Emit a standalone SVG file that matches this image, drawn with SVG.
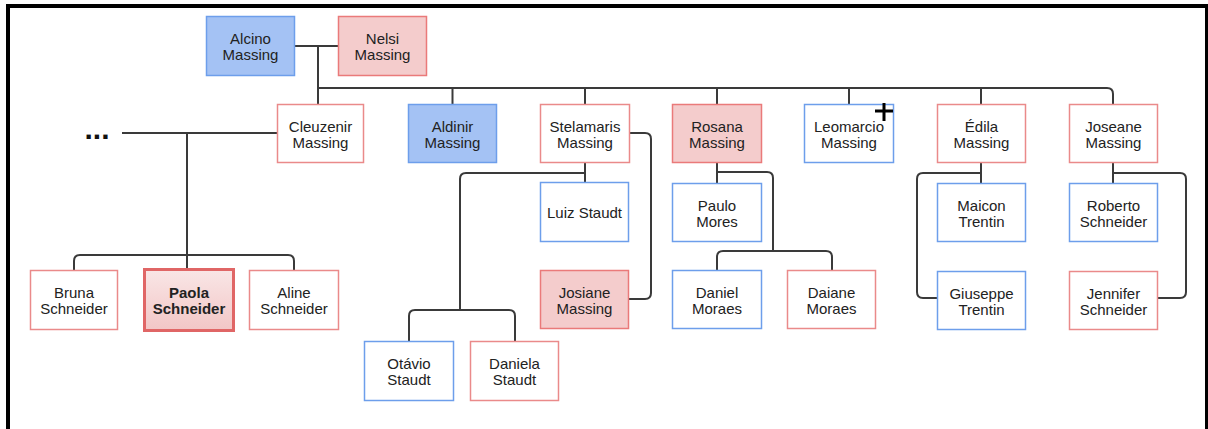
<svg xmlns="http://www.w3.org/2000/svg" width="1208" height="429" viewBox="0 0 1208 429">
<style>
.n rect{stroke-width:1.5}
.b rect{fill:#ffffff;stroke:#6d9eeb}
.bf rect{fill:#a4c2f4;stroke:#6d9eeb}
.r rect{fill:#ffffff;stroke:#ea8a8a}
.rf rect{fill:#f4cccc;stroke:#ea7a7a}
text{font-family:"Liberation Sans",Arial,sans-serif;font-size:15px;fill:#222;text-anchor:middle}
.c path{fill:none;stroke:#3a3a3a;stroke-width:2}
</style>
<defs>
<linearGradient id="pg" x1="0" y1="0" x2="0" y2="1"><stop offset="0" stop-color="#f9e6e6"/><stop offset="1" stop-color="#f2c6c6"/></linearGradient>
</defs>
<rect width="1208" height="429" fill="#ffffff"/>
<g id="frame" fill="none" stroke="#000">
<path d="M8,429 V6 H1208" stroke-width="4"/>
<path d="M1206.5,6 V429" stroke-width="3"/>
</g>
<g class="c" id="connectors">
<path d="M295,46 H338"/>
<path d="M318,46 V104"/>
<path d="M318,88 H1107 Q1113,88 1113,94 V104"/>
<path d="M452.5,88 V104"/>
<path d="M585,88 V104"/>
<path d="M717,88 V104"/>
<path d="M849,88 V104"/>
<path d="M981,88 V104"/>
<path d="M277,133 H122"/>
<path d="M187,133 V268"/>
<path d="M74,270 V261 Q74,255 80,255 H288 Q294,255 294,261 V270"/>
<path d="M585,163 V182"/>
<path d="M585,173 H466 Q460,173 460,179 V310"/>
<path d="M409,341 V316 Q409,310 415,310 H509 Q515,310 515,316 V341"/>
<path d="M630,133 H645 Q651,133 651,139 V293 Q651,299 645,299 H629"/>
<path d="M717,163 V183"/>
<path d="M717,172 H767 Q773,172 773,178 V251"/>
<path d="M717,270 V257 Q717,251 723,251 H826 Q832,251 832,257 V270"/>
<path d="M981,163 V183"/>
<path d="M981,173 H923 Q917,173 917,179 V292 Q917,298 923,298 H937"/>
<path d="M1113,163 V183"/>
<path d="M1113,173 H1180 Q1186,173 1186,179 V292 Q1186,298 1180,298 H1158"/>
</g>
<g id="ellipsis"><text x="97" y="139" style="font-size:30px;font-weight:bold;fill:#111">...</text></g>
<g id="alcino" class="n bf"><rect x="206.5" y="16.5" width="88" height="59"/><text x="250.5" y="43.5">Alcino</text><text x="250.5" y="59.5">Massing</text></g>
<g id="nelsi" class="n rf"><rect x="338.5" y="16.5" width="88" height="59"/><text x="382.5" y="43.5">Nelsi</text><text x="382.5" y="59.5">Massing</text></g>
<g id="cleuzenir" class="n r"><rect x="277.5" y="104.5" width="86" height="58"/><text x="320.5" y="131.5">Cleuzenir</text><text x="320.5" y="147.5">Massing</text></g>
<g id="aldinir" class="n bf"><rect x="408.5" y="104.5" width="88" height="58"/><text x="452.5" y="131.5">Aldinir</text><text x="452.5" y="147.5">Massing</text></g>
<g id="stelamaris" class="n r"><rect x="540.5" y="104.5" width="89" height="58"/><text x="585" y="131.5">Stelamaris</text><text x="585" y="147.5">Massing</text></g>
<g id="rosana" class="n rf"><rect x="672.5" y="104.5" width="89" height="58"/><text x="717" y="131.5">Rosana</text><text x="717" y="147.5">Massing</text></g>
<g id="leomarcio" class="n b"><rect x="804.5" y="104.5" width="89" height="58"/><text x="849" y="131.5">Leomarcio</text><text x="849" y="147.5">Massing</text></g>
<g id="plus-icon"><path d="M875,111 H893 M884,103 V121" stroke="#000" stroke-width="3"/></g>
<g id="edila" class="n r"><rect x="937.5" y="104.5" width="88" height="58"/><text x="981.5" y="131.5">Édila</text><text x="981.5" y="147.5">Massing</text></g>
<g id="joseane" class="n r"><rect x="1069.5" y="104.5" width="88" height="58"/><text x="1113.5" y="131.5">Joseane</text><text x="1113.5" y="147.5">Massing</text></g>
<g id="luiz" class="n b"><rect x="540.5" y="182.5" width="88" height="59"/><text x="584.5" y="217.5">Luiz Staudt</text></g>
<g id="paulo" class="n b"><rect x="672.5" y="183.5" width="89" height="58"/><text x="717" y="210.5">Paulo</text><text x="717" y="226.5">Mores</text></g>
<g id="maicon" class="n b"><rect x="937.5" y="183.5" width="88" height="58"/><text x="981.5" y="210.5">Maicon</text><text x="981.5" y="226.5">Trentin</text></g>
<g id="roberto" class="n b"><rect x="1069.5" y="183.5" width="88" height="58"/><text x="1113.5" y="210.5">Roberto</text><text x="1113.5" y="226.5">Schneider</text></g>
<g id="bruna" class="n r"><rect x="30.5" y="270.5" width="87" height="59"/><text x="74" y="297.5">Bruna</text><text x="74" y="313.5">Schneider</text></g>
<g id="paola"><rect x="144.5" y="269.5" width="89" height="61" fill="url(#pg)" stroke="#e06666" stroke-width="3"/><text x="189" y="297.5" style="font-weight:bold">Paola</text><text x="189" y="313.5" style="font-weight:bold">Schneider</text></g>
<g id="aline" class="n r"><rect x="249.5" y="270.5" width="89" height="59"/><text x="294" y="297.5">Aline</text><text x="294" y="313.5">Schneider</text></g>
<g id="josiane" class="n rf"><rect x="540.5" y="270.5" width="88" height="58"/><text x="584.5" y="297.5">Josiane</text><text x="584.5" y="313.5">Massing</text></g>
<g id="daniel" class="n b"><rect x="672.5" y="270.5" width="89" height="58"/><text x="717" y="297.5">Daniel</text><text x="717" y="313.5">Moraes</text></g>
<g id="daiane" class="n r"><rect x="787.5" y="270.5" width="88" height="58"/><text x="831.5" y="297.5">Daiane</text><text x="831.5" y="313.5">Moraes</text></g>
<g id="giuseppe" class="n b"><rect x="937.5" y="271.5" width="88" height="58"/><text x="981.5" y="298.5">Giuseppe</text><text x="981.5" y="314.5">Trentin</text></g>
<g id="jennifer" class="n r"><rect x="1069.5" y="271.5" width="88" height="58"/><text x="1113.5" y="298.5">Jennifer</text><text x="1113.5" y="314.5">Schneider</text></g>
<g id="otavio" class="n b"><rect x="364.5" y="341.5" width="89" height="59"/><text x="409" y="368.5">Otávio</text><text x="409" y="384.5">Staudt</text></g>
<g id="daniela" class="n r"><rect x="470.5" y="341.5" width="88" height="59"/><text x="514.5" y="368.5">Daniela</text><text x="514.5" y="384.5">Staudt</text></g>
</svg>
